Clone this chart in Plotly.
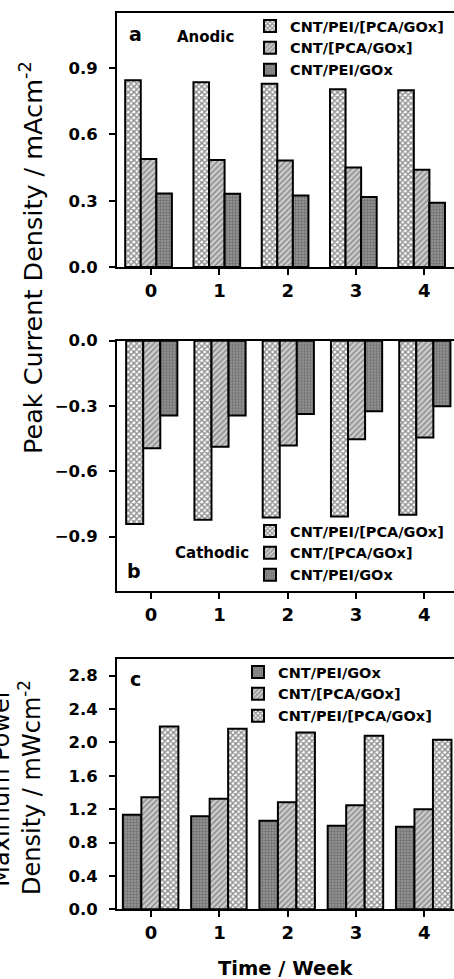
import plotly.graph_objects as go

W, H = 454, 979
L = 117  # left margin px

weeks = [0, 1, 2, 3, 4]
tick_labels = ["0", "1", "2", "3", "4"]

names_ab = ["CNT/PEI/[PCA/GOx]", "CNT/[PCA/GOx]", "CNT/PEI/GOx"]
anodic_pei_pca = [0.846, 0.837, 0.830, 0.805, 0.800]
anodic_pca = [0.489, 0.484, 0.482, 0.451, 0.440]
anodic_pei_gox = [0.333, 0.332, 0.324, 0.317, 0.291]

cathodic_pei_pca = [-0.842, -0.823, -0.812, -0.808, -0.800]
cathodic_pca = [-0.494, -0.487, -0.482, -0.453, -0.445]
cathodic_pei_gox = [-0.344, -0.344, -0.337, -0.324, -0.301]

names_c = ["CNT/PEI/GOx", "CNT/[PCA/GOx]", "CNT/PEI/[PCA/GOx]"]
power_pei_gox = [1.132, 1.116, 1.060, 1.000, 0.990]
power_pca = [1.344, 1.324, 1.284, 1.248, 1.200]
power_pei_pca = [2.190, 2.164, 2.120, 2.080, 2.033]

yticks_a = [0.0, 0.3, 0.6, 0.9]
yticks_b = [0.0, -0.3, -0.6, -0.9]
yticks_c = [0.0, 0.4, 0.8, 1.2, 1.6, 2.0, 2.4, 2.8]

FONT = "DejaVu Sans"

def px(x):
    return (x - L) / (W - L)

def py(y):
    return 1 - y / H

patterns = {
    "CNT/PEI/[PCA/GOx]": dict(shape="x", bgcolor="#ffffff", fgcolor="#1a1a1a", size=4, solidity=0.6),
    "CNT/[PCA/GOx]": dict(shape="/", bgcolor="#cccccc", fgcolor="#404040", size=4, solidity=0.35),
    "CNT/PEI/GOx": dict(shape="+", bgcolor="#8f8f8f", fgcolor="#4a4a4a", size=3, solidity=0.35),
}

fig = go.Figure()

def add_panel(values, names, xa, ya, legend, start, width):
    for i, (vals, nm) in enumerate(zip(values, names)):
        fig.add_trace(go.Bar(
            x=weeks, y=vals, name=nm, xaxis=xa, yaxis=ya, legend=legend,
            width=width, offset=start + i * width,
            marker=dict(color=patterns[nm]["bgcolor"], pattern=patterns[nm],
                        line=dict(color="black", width=2)),
        ))

add_panel([anodic_pei_pca, anodic_pca, anodic_pei_gox], names_ab, "x", "y", "legend", -0.38, 0.228)
add_panel([cathodic_pei_pca, cathodic_pca, cathodic_pei_gox], names_ab, "x2", "y2", "legend2", -0.366, 0.25)
add_panel([power_pei_gox, power_pca, power_pei_pca], names_c, "x3", "y3", "legend3", -0.414, 0.271)

xrng = [-0.5, (W - 151) / 68.3]

def xaxis(anchor):
    return dict(domain=[0, 1], anchor=anchor, range=xrng, tickvals=weeks, ticktext=tick_labels,
                showline=True, linecolor="black", linewidth=2, mirror=True,
                ticks="outside", ticklen=6, tickwidth=2, tickcolor="black",
                tickfont=dict(family=FONT, size=18, color="black", weight="bold"),
                ticklabelstandoff=0, showgrid=False, zeroline=False, automargin=False)

def yaxis(anchor, dom, rng, tv):
    return dict(domain=dom, anchor=anchor, range=rng, tickvals=tv, tickformat=".1f",
                showline=True, linecolor="black", linewidth=2, mirror=False,
                ticks="outside", ticklen=6, tickwidth=2, tickcolor="black",
                tickfont=dict(family=FONT, size=16.5, color="black", weight="bold"),
                ticklabelstandoff=8, showgrid=False, zeroline=False, automargin=False)

legfont = dict(family=FONT, size=14.5, color="black", weight="bold")

def legend(x, ytop):
    return dict(x=px(x), y=py(ytop), xanchor="left", yanchor="top", font=legfont,
                bgcolor="rgba(0,0,0,0)", borderwidth=0, tracegroupgap=0)

fig.update_layout(
    width=W, height=H,
    margin=dict(l=L, r=0, t=0, b=0, pad=0, autoexpand=False),
    paper_bgcolor="white", plot_bgcolor="white",
    barmode="overlay",
    xaxis=xaxis("y"),
    xaxis2=xaxis("y2"),
    xaxis3=xaxis("y3"),
    yaxis=yaxis("x", [py(267), py(13)], [0, 1.15], yticks_a),
    yaxis2=yaxis("x2", [py(591), py(340.7)], [-1.15, 0], yticks_b),
    yaxis3=yaxis("x3", [py(909.3), py(659)], [0, 3.0], yticks_c),
    legend=legend(250, 10),
    legend2=legend(250, 515),
    legend3=legend(238, 656),
    showlegend=True,
)

def ann(text, x, y, size, bold=True, angle=0, xanchor="center"):
    fig.add_annotation(text=text, x=px(x), y=py(y), xref="paper", yref="paper",
                       showarrow=False, textangle=angle, xanchor=xanchor, yanchor="middle",
                       font=dict(family=FONT, size=size, color="black",
                                 weight="bold" if bold else "normal"))

ann("a", 135, 34, 19)
ann("Anodic", 205, 37, 15)
ann("b", 134, 571, 19)
ann("Cathodic", 212, 553, 15)
ann("c", 135, 679, 19)
ann("Time / Week", 285, 968, 19.5)
ann("Peak Current Density / mAcm<sup>-2</sup>", 31, 258, 25.5, bold=False, angle=-90)
ann("Maximum Power<br>Density / mWcm<sup>-2</sup>", 16, 787, 24, bold=False, angle=-90)

fig.write_html("out.html")
